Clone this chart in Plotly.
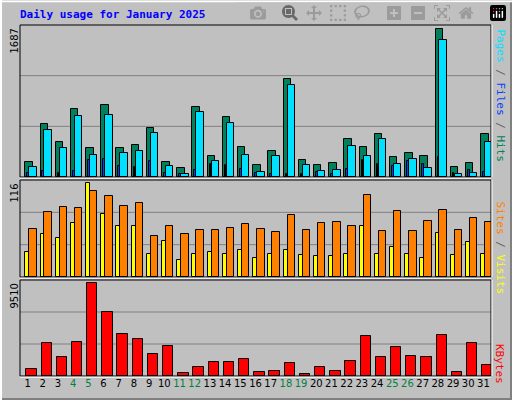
import plotly.graph_objects as go

days = list(range(1, 32))
hits = [171,605,404,771,326,827,326,360,560,171,104,794,237,682,338,137,293,1116,193,137,160,438,338,493,226,271,237,1687,115,160,493]
files = [119,541,330,693,248,705,271,293,504,126,37,738,182,616,248,59,237,1050,137,70,82,349,237,438,148,204,104,1561,37,48,404]
pages = [48,63,48,63,197,208,126,119,185,48,30,82,148,137,93,48,37,37,37,59,37,93,193,148,126,182,148,226,48,82,59]
visits = [31,53,48,67,116,78,63,63,29,44,21,29,31,29,34,23,29,34,27,26,26,28,63,29,37,28,23,54,27,43,29]
sites = [59,81,87,85,107,100,88,92,51,63,53,58,58,61,66,59,56,77,58,67,68,63,101,57,82,57,70,83,58,73,68]
kbytes = [763,3366,1909,3470,9510,6594,4303,3783,2221,3054,347,972,1388,1388,1700,451,555,1284,174,972,555,1492,4095,1909,2950,2013,1909,4199,451,3366,1180]
weekend = {4,5,11,12,18,19,25,26}
ticktext = [f"<span style='color:#008040'>{d}</span>" if d in weekend else str(d) for d in days]

W, H = 512, 400
def py(y): return 1 - y / H
def px(x): return x / W
x0, x1 = px(20), px(491)
panels = [(25, 177, "y"), (180, 277, "y2"), (280, 376, "y3")]

fig = go.Figure()
def bar(y, color, off, w, axis, name):
    fig.add_trace(go.Bar(x=days, y=y, offset=off, width=w, marker=dict(color=color, line=dict(color="black", width=1)),
                         yaxis=axis, name=name, showlegend=False))
bar(hits, "#00805C", -0.15, 0.49, "y", "Hits")
bar(files, "#00E0FF", 0.11, 0.49, "y", "Files")
bar(pages, "#0040FF", -0.02, 0.11, "y", "Pages")
bar(visits, "#FFFF00", -0.15, 0.27, "y2", "Visits")
bar(sites, "#FF8000", 0.11, 0.49, "y2", "Sites")
bar(kbytes, "#FF0000", -0.085, 0.68, "y3", "KBytes")

shapes = []
shapes.append(dict(type="rect", xref="paper", yref="paper", x0=0, x1=1, y0=0, y1=1, line=dict(color="#808080", width=4), layer="below"))
shapes.append(dict(type="line", xref="paper", yref="paper", x0=0.002, x1=0.002, y0=0, y1=1, line=dict(color="white", width=2)))
shapes.append(dict(type="line", xref="paper", yref="paper", x0=0, x1=1, y0=0.997, y1=0.997, line=dict(color="white", width=2)))
for top, bot, ax in panels:
    h = bot - top
    for k in (1, 2):
        yy = py(bot - h * k / 3)
        shapes.append(dict(type="line", xref="paper", yref="paper", x0=x0, x1=x1, y0=yy, y1=yy, line=dict(color="#808080", width=1), layer="below"))
    shapes.append(dict(type="rect", xref="paper", yref="paper", x0=x0, x1=x1, y0=py(bot), y1=py(top), line=dict(color="black", width=1)))
    shapes.append(dict(type="line", xref="paper", yref="paper", x0=x0, x1=x1, y0=py(bot)-0.003, y1=py(bot)-0.003, line=dict(color="white", width=1)))
    shapes.append(dict(type="line", xref="paper", yref="paper", x0=x1+0.002, x1=x1+0.002, y0=py(bot), y1=py(top), line=dict(color="white", width=1)))

mono = "DejaVu Sans Mono"
ann = [
    dict(text="<b>Daily usage for January 2025</b>", x=px(18), y=py(15), xref="paper", yref="paper", xanchor="left", yanchor="middle",
         showarrow=False, font=dict(family=mono, size=11, color="#0000FF")),
]
for lbl, top in [("1687", 25), ("116", 180), ("9510", 280)]:
    ann.append(dict(text=lbl, x=px(14), y=py(top + 2), xref="paper", yref="paper", xanchor="center", yanchor="top",
                    textangle=-90, showarrow=False, font=dict(family="DejaVu Sans", size=10, color="black")))
right = [
    ("<span style='color:#00E0FF'>Pages</span><span style='color:#606060'> / </span><span style='color:#0040FF'>Files</span><span style='color:#606060'> / </span><span style='color:#00805C'>Hits</span>", 25),
    ("<span style='color:#FF8000'>Sites</span><span style='color:#606060'> / </span><span style='color:#FFFF00'>Visits</span>", 197),
    ("<span style='color:#FF0000'>KBytes</span>", 340),
]
for t, top in right:
    ann.append(dict(text=t, x=px(500), y=py(top + 2), xref="paper", yref="paper", xanchor="center", yanchor="top",
                    textangle=90, showarrow=False, font=dict(family=mono, size=11)))

fig.update_layout(
    width=W, height=H, margin=dict(l=0, r=0, t=0, b=0),
    paper_bgcolor="#C0C0C0", plot_bgcolor="#C0C0C0", barmode="overlay", bargap=0,
    shapes=shapes, annotations=ann,
    xaxis=dict(domain=[x0, x1], range=[0.5, 31.5], tickvals=days, ticktext=ticktext, ticks="", showgrid=False,
               zeroline=False, anchor="y3", tickangle=0, tickfont=dict(family="DejaVu Sans", size=10, color="black"), showline=False),
    yaxis=dict(domain=[py(177), py(25)], range=[0, 1736], visible=False, showgrid=False),
    yaxis2=dict(domain=[py(277), py(180)], range=[0, 120.2], visible=False, showgrid=False),
    yaxis3=dict(domain=[py(376), py(280)], range=[0, 9857], visible=False, showgrid=False),
)
fig.write_html("out.html", post_script="document.body.style.margin='0';document.body.style.padding='0';")
